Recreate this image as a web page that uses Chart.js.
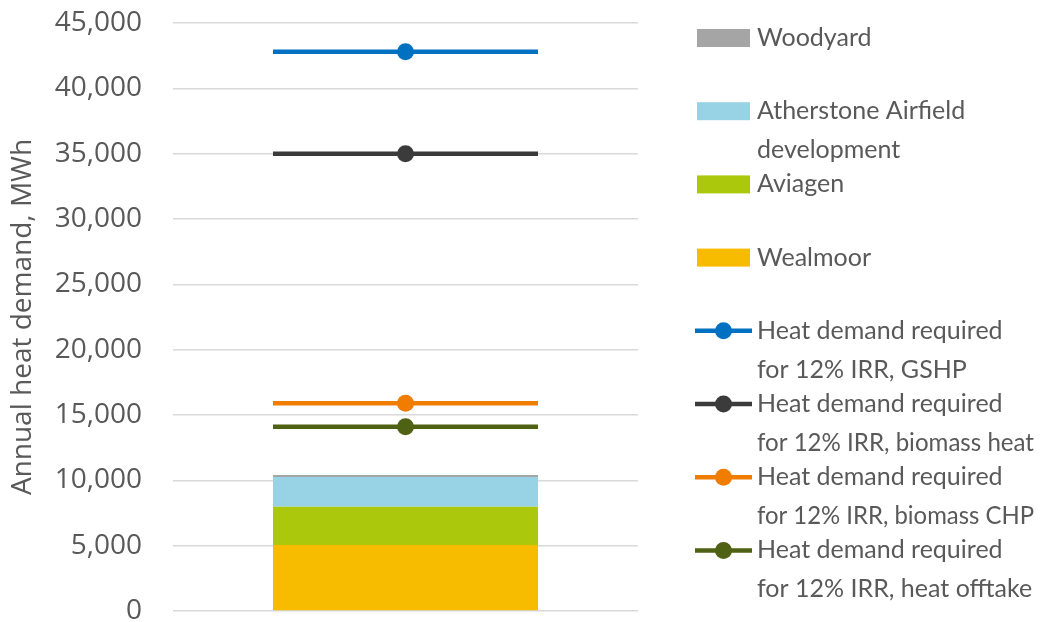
<!DOCTYPE html>
<html>
<head>
<meta charset="utf-8">
<script src="https://cdn.jsdelivr.net/npm/chart.js@4"></script>
<style>
  html, body { margin: 0; padding: 0; background: #ffffff; }
  #wrap { width: 1040px; height: 622px; }
</style>
</head>
<body>
<div id="wrap"><canvas id="chart" width="1040" height="622"></canvas></div>
<script>
// Annual heat demand by site (MWh), stacked in one column
const categories = [''];
const wealmoor = [5050];
const aviagen = [2930];
const atherstone = [2270];
const woodyard = [150];

// Heat demand needed to reach a 12% IRR, per technology (MWh)
const gshp = [42800];
const biomassHeat = [35000];
const biomassChp = [15900];
const heatOfftake = [14100];

// Y axis
const yMin = 0;
const yMax = 45000;
const yStep = 5000;

const BAR_FRACTION = 0.57;
const GREY_TEXT = '#595959';

// Threshold lines span the same width as the column, with a marker in the middle
const edge = (1 - BAR_FRACTION) / 2;
function spanPoints(values) {
  const v = values[0];
  return [{ x: edge, y: v }, { x: 0.5, y: v }, { x: 1 - edge, y: v }];
}

function barSet(label, values, color) {
  return {
    type: 'bar', label, data: values, backgroundColor: color,
    borderWidth: 0, stack: 'sites', grouped: false, xAxisID: 'x', yAxisID: 'y',
    barPercentage: BAR_FRACTION, categoryPercentage: 1, order: 2
  };
}
function lineSet(label, values, color) {
  return {
    type: 'line', label, data: spanPoints(values), borderColor: color,
    backgroundColor: color, borderWidth: 4.5, fill: false, tension: 0,
    pointRadius: (c) => (c.dataIndex === 1 ? 8.5 : 0),
    pointHoverRadius: (c) => (c.dataIndex === 1 ? 8.5 : 0),
    pointBorderWidth: 0, borderCapStyle: 'butt',
    stack: label, xAxisID: 'xLine', yAxisID: 'y', order: 1
  };
}

const datasets = [
  barSet('Wealmoor', wealmoor, '#f7bb00'),
  barSet('Aviagen', aviagen, '#abc80c'),
  barSet('Atherstone Airfield\ndevelopment', atherstone, '#97d3e4'),
  barSet('Woodyard', woodyard, '#a5a5a5'),
  lineSet('Heat demand required\nfor 12% IRR, GSHP', gshp, '#0070c0'),
  lineSet('Heat demand required\nfor 12% IRR, biomass heat', biomassHeat, '#3b3b3b'),
  lineSet('Heat demand required\nfor 12% IRR, biomass CHP', biomassChp, '#f07c00'),
  lineSet('Heat demand required\nfor 12% IRR, heat offtake', heatOfftake, '#4f6112')
];

// Legend entries, top to bottom (dataset indices)
const legendOrder = [3, 2, 1, 0, 4, 5, 6, 7];

const sideLegend = {
  id: 'sideLegend',
  afterDraw(chart) {
    const { ctx, chartArea } = chart;
    const symX = chartArea.right + 57;
    const symW = 54;
    const textX = symX + 62;
    const textMax = chart.width - 6 - textX;
    const slot = 73.2;
    const lineGap = 39;
    let y = chartArea.top + 15;
    ctx.save();
    ctx.font = '25px Lato';
    ctx.textBaseline = 'middle';
    ctx.textAlign = 'left';
    legendOrder.forEach((i) => {
      const ds = chart.data.datasets[i];
      if (ds.type === 'line') {
        ctx.strokeStyle = ds.borderColor;
        ctx.lineWidth = 4.5;
        ctx.beginPath();
        ctx.moveTo(symX, y);
        ctx.lineTo(symX + symW + 3, y);
        ctx.stroke();
        ctx.fillStyle = ds.borderColor;
        ctx.beginPath();
        ctx.arc(symX + (symW + 3) / 2, y, 8.5, 0, Math.PI * 2);
        ctx.fill();
      } else {
        ctx.fillStyle = ds.backgroundColor;
        ctx.fillRect(symX + 2, y - 9, symW - 1, 18);
      }
      ctx.fillStyle = GREY_TEXT;
      ds.label.split('\n').forEach((line, k) => {
        ctx.fillText(line, textX, y + k * lineGap, textMax);
      });
      y += slot;
    });
    ctx.restore();
  }
};

new Chart(document.getElementById('chart'), {
  type: 'bar',
  data: { labels: categories, datasets },
  plugins: [sideLegend],
  options: {
    responsive: false,
    animation: false,
    events: [],
    layout: { padding: { left: 0, top: 23, right: 402, bottom: 11 } },
    plugins: {
      legend: { display: false },
      tooltip: { enabled: false }
    },
    scales: {
      x: { type: 'category', display: false, stacked: true, offset: true, grid: { display: false } },
      xLine: { type: 'linear', display: false, min: 0, max: 1, offset: false, grid: { display: false } },
      y: {
        type: 'linear', stacked: true, min: yMin, max: yMax,
        border: { display: false },
        grid: { color: '#d9d9d9', lineWidth: 1.5, drawTicks: false },
        ticks: {
          stepSize: yStep, padding: 31, color: GREY_TEXT,
          font: { family: 'Open Sans', size: 28 },
          callback: (v) => v.toLocaleString('en-US')
        },
        title: {
          display: true, text: 'Annual heat demand, MWh', color: GREY_TEXT,
          font: { family: 'Open Sans', size: 28 }, padding: { top: 6, bottom: 0 }
        },
        afterFit: (scale) => {
          scale.width = 173;
          scale.paddingTop = 0;
          scale.paddingBottom = 0;
        }
      }
    }
  }
});
</script>
</body>
</html>
